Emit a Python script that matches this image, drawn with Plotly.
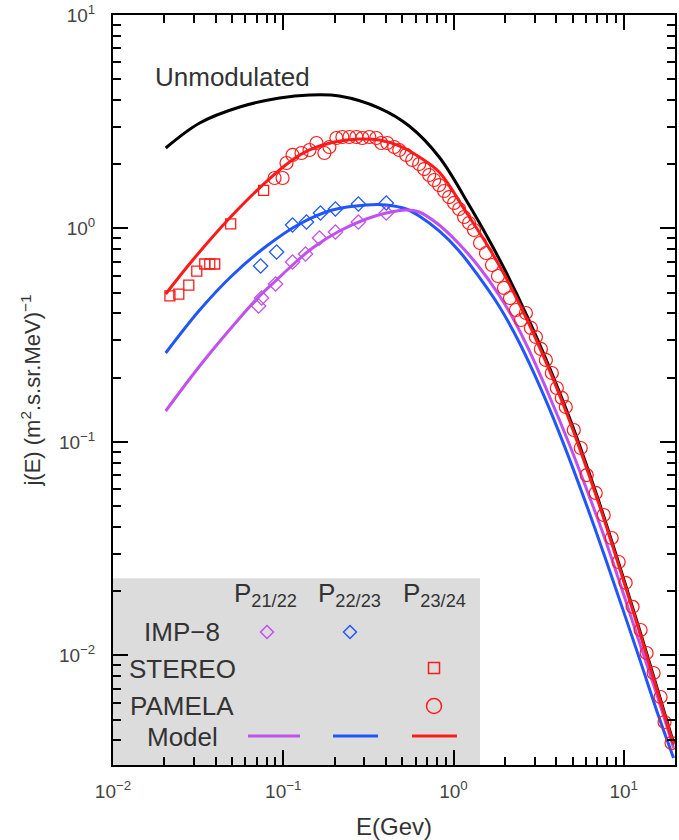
import plotly.graph_objects as go

# model curves: energy (GeV) and intensity j(E)
e_unmod = [0.0204, 0.0323, 0.0555, 0.0951, 0.1426, 0.2137, 0.3665, 0.5493, 0.8235, 1.234,
           1.617, 2.033, 2.773, 3.632, 4.756, 5.441, 7.129, 9.335, 12.23, 16.01, 19.61]
j_unmod = [2.382, 3.120, 3.708, 4.086, 4.221, 4.175, 3.667, 3.021, 2.162, 1.289,
           0.8833, 0.6254, 0.3727, 0.2270, 0.1323, 0.0989, 0.0529, 0.02712, 0.01360, 0.006674, 0.00389]

e_p2324 = [0.0204, 0.02942, 0.04845, 0.07563, 0.1089, 0.1426, 0.1997, 0.2799, 0.3665, 0.4801,
           0.6287, 0.8235, 1.185, 1.617, 2.033, 2.773, 3.632, 4.756, 5.441, 7.129,
           9.335, 12.23, 16.01, 19.61]
j_p2324 = [0.4934, 0.7120, 1.120, 1.598, 2.049, 2.332, 2.542, 2.626, 2.597, 2.435,
           2.162, 1.839, 1.195, 0.811, 0.589, 0.358, 0.220, 0.1285, 0.0959, 0.0516,
           0.02648, 0.0133, 0.00653, 0.00382]

e_p2223 = [0.0204, 0.0323, 0.05047, 0.07983, 0.1246, 0.1944, 0.3076, 0.4029, 0.5276, 0.6287,
           0.8235, 1.079, 1.413, 1.850, 2.265, 2.773, 3.632, 4.756, 6.229, 7.834,
           12.23, 16.01, 19.61]
j_p2223 = [0.2611, 0.4152, 0.6056, 0.8279, 1.050, 1.221, 1.289, 1.289, 1.234, 1.144,
           0.9734, 0.7846, 0.5927, 0.4335, 0.3266, 0.2360, 0.1452, 0.0847, 0.0474, 0.02825,
           0.00993, 0.0052, 0.00331]

e_p2122 = [0.0204, 0.0323, 0.0555, 0.07265, 0.09137, 0.1134, 0.1485, 0.2137, 0.3076, 0.4029,
           0.5276, 0.6287, 0.8235, 1.079, 1.413, 1.850, 2.265, 2.773, 3.632, 4.756,
           6.229, 7.834, 12.23, 16.01, 19.61]
j_p2122 = [0.1397, 0.2270, 0.3808, 0.4828, 0.5739, 0.6745, 0.8102, 0.9734, 1.108, 1.182,
           1.221, 1.195, 1.038, 0.8460, 0.6603, 0.4882, 0.3727, 0.2698, 0.1660, 0.0989,
           0.0565, 0.0344, 0.01182, 0.00619, 0.00369]

# observations
imp8_2122_e = [0.07166, 0.07462, 0.09013, 0.1134, 0.1351, 0.1632, 0.2025, 0.2762, 0.4029]
imp8_2122_j = [0.4335, 0.4726, 0.5495, 0.6968, 0.7597, 0.9026, 0.9630, 1.072, 1.182]

imp8_2223_e = [0.07362, 0.09137, 0.1134, 0.1369, 0.1654, 0.2025, 0.2762, 0.4029]
imp8_2223_j = [0.6674, 0.7760, 1.038, 1.072, 1.182, 1.234, 1.302, 1.317]

stereo_e = [0.0216, 0.02435, 0.02787, 0.03105, 0.03459, 0.0370, 0.03959, 0.04912, 0.07667]
stereo_j = [0.483, 0.493, 0.543, 0.632, 0.682, 0.682, 0.682, 1.05, 1.51]

pamela_e = [0.0889, 0.0991, 0.1045, 0.1134, 0.1280, 0.1426, 0.1567, 0.1745, 0.1867, 0.2052,
            0.2225, 0.2446, 0.2688, 0.2914, 0.3203, 0.3521, 0.3766, 0.4083, 0.4487, 0.4801,
            0.5276, 0.5722, 0.6287, 0.6727, 0.7197, 0.7700, 0.8235, 0.8808, 0.9423, 1.008,
            1.079, 1.154, 1.234, 1.320, 1.432, 1.552, 1.683, 1.825, 1.979, 2.146,
            2.326, 2.489, 2.663, 2.849, 3.048, 3.261, 3.488, 3.781, 4.045, 4.327,
            4.566, 5.088, 5.590, 6.063, 6.846, 7.624, 8.494, 9.335, 10.26, 11.27,
            12.56, 13.62, 14.97, 16.45, 17.36, 19.08]
pamela_j = [1.724, 1.724, 2.027, 2.210, 2.258, 2.332, 2.514, 2.258, 2.408, 2.654,
            2.683, 2.683, 2.683, 2.654, 2.683, 2.654, 2.514, 2.514, 2.408, 2.332,
            2.210, 2.094, 2.005, 1.899, 1.781, 1.687, 1.598, 1.498, 1.404, 1.317,
            1.234, 1.132, 1.061, 0.9840, 0.8552, 0.7678, 0.6745, 0.5991, 0.5265, 0.4726,
            0.4152, 0.3727, 0.4019, 0.3420, 0.3102, 0.2727, 0.2422, 0.2104, 0.1790, 0.1608,
            0.1458, 0.1138, 0.0937, 0.0700, 0.0577, 0.0455, 0.0355, 0.0274, 0.0219, 0.0169,
            0.01316, 0.01027, 0.00828, 0.00639, 0.00488, 0.00389]

x_ticks = [0.01, 0.1, 1, 10]
x_ticktext = ['10<sup>\u22122</sup>', '10<sup>\u22121</sup>', '10<sup>0</sup>', '10<sup>1</sup>']
y_ticks = [0.01, 0.1, 1, 10]
y_ticktext = ['10<sup>\u22122</sup>', '10<sup>\u22121</sup>', '10<sup>0</sup>', '10<sup>1</sup>']

RED = '#ff1a1a'
BLUE = '#1f56ff'
PURPLE = '#c150f0'
FONT = 'Liberation Sans, Arial, sans-serif'

fig = go.Figure()

fig.add_trace(go.Scatter(x=e_p2223, y=j_p2223, mode='lines', line=dict(color=BLUE, width=3, shape='spline')))
fig.add_trace(go.Scatter(x=e_p2122, y=j_p2122, mode='lines', line=dict(color=PURPLE, width=3, shape='spline')))
fig.add_trace(go.Scatter(x=e_unmod, y=j_unmod, mode='lines', line=dict(color='black', width=3, shape='spline')))

fig.add_trace(go.Scatter(x=imp8_2122_e, y=imp8_2122_j, mode='markers',
                         marker=dict(symbol='diamond-open', size=11, color=PURPLE, line=dict(width=1.3))))
fig.add_trace(go.Scatter(x=imp8_2223_e, y=imp8_2223_j, mode='markers',
                         marker=dict(symbol='diamond-open', size=11, color=BLUE, line=dict(width=1.3))))
fig.add_trace(go.Scatter(x=stereo_e, y=stereo_j, mode='markers',
                         marker=dict(symbol='square-open', size=10, color=RED, line=dict(width=1.3))))
fig.add_trace(go.Scatter(x=pamela_e, y=pamela_j, mode='markers',
                         marker=dict(symbol='circle-open', size=13, color=RED, line=dict(width=1.2))))
fig.add_trace(go.Scatter(x=e_p2324, y=j_p2324, mode='lines', line=dict(color=RED, width=3, shape='spline')))

# minor tick positions
def minors(lo, hi):
    out = []
    for k in range(lo, hi):
        for m in range(2, 10):
            out.append(m * 10 ** k)
    return out

axis_common = dict(type='log', showgrid=False, zeroline=False, showline=True, linecolor='black',
                   linewidth=2, mirror='ticks', ticks='inside', ticklen=15, tickwidth=1.5,
                   tickcolor='black', automargin=False, ticklabeloverflow='allow',
                   tickfont=dict(family=FONT, size=19, color='#444'))

fig.update_xaxes(range=[-2, 1.301], tickvals=x_ticks, ticktext=x_ticktext,
                 minor=dict(ticks='inside', ticklen=8, tickwidth=1.5, tickcolor='black',
                            tickvals=minors(-2, 2), showgrid=False),
                 ticklabelstandoff=8,
                 title=dict(text='E(Gev)', font=dict(family=FONT, size=24, color='#333'), standoff=18),
                 **axis_common)
fig.update_yaxes(range=[-2.513, 1], tickvals=y_ticks, ticktext=y_ticktext,
                 minor=dict(ticks='inside', ticklen=8, tickwidth=1.5, tickcolor='black',
                            tickvals=minors(-3, 1), showgrid=False),
                 ticklabelstandoff=12,
                 title=dict(text='j(E) (m<sup>2</sup>.s.sr.MeV)<sup>\u22121</sup>',
                            font=dict(family=FONT, size=22, color='#333'), standoff=12),
                 **axis_common)

# legend panel
shapes = [dict(type='rect', xref='paper', yref='paper', x0=0, x1=0.653, y0=0, y1=0.249,
               fillcolor='#dcdcdc', line=dict(width=0), layer='below')]


def sym(kind, x, y, color, r):
    d = dict(xref='paper', yref='paper', xsizemode='pixel', ysizemode='pixel',
             xanchor=x, yanchor=y, line=dict(color=color, width=1.5))
    if kind == 'diamond':
        d.update(type='path', path=f'M0,{r} L{r},0 L0,{-r} L{-r},0 Z')
    else:
        d.update(type=kind, x0=-r, x1=r, y0=-r, y1=r)
    return d


shapes += [
    sym('diamond', 0.274, 0.1773, PURPLE, 6.5),
    sym('diamond', 0.4217, 0.1773, BLUE, 6.5),
    sym('rect', 0.5712, 0.1293, RED, 5.5),
    sym('circle', 0.5712, 0.0787, RED, 7.5),
]
for x0, x1, c in [(0.2402, 0.3327, PURPLE), (0.3915, 0.4715, BLUE), (0.532, 0.612, RED)]:
    shapes.append(dict(type='line', xref='paper', yref='paper', x0=x0, x1=x1, y0=0.0387, y1=0.0387,
                       line=dict(color=c, width=3)))

ann_font = dict(family=FONT, size=26, color='#333')
annotations = [dict(text='Unmodulated', x=0.2135, y=0.9173, font=dict(family=FONT, size=26, color='#333'))]
for txt, x in [('P<sub>21/22</sub>', 0.2705), ('P<sub>22/23</sub>', 0.4217), ('P<sub>23/24</sub>', 0.5712)]:
    annotations.append(dict(text=txt, x=x, y=0.2267, font=dict(family=FONT, size=26, color='#333')))
for txt, y in [('IMP\u22128', 0.1773), ('STEREO', 0.128), ('PAMELA', 0.0787), ('Model', 0.0373)]:
    annotations.append(dict(text=txt, x=0.1228, y=y, font=ann_font))
for a in annotations:
    a.update(xref='paper', yref='paper', showarrow=False, xanchor='center', yanchor='middle')

fig.update_layout(
    width=679, height=840,
    margin=dict(l=113, r=4, t=15, b=75),
    paper_bgcolor='white', plot_bgcolor='white',
    showlegend=False,
    shapes=shapes,
    annotations=annotations,
    font=dict(family=FONT),
)

# drop the default page margin so the figure sits at the window's corner
fig.write_html('out.html', config={'displayModeBar': False},
               post_script="document.body.style.margin='0px';")
